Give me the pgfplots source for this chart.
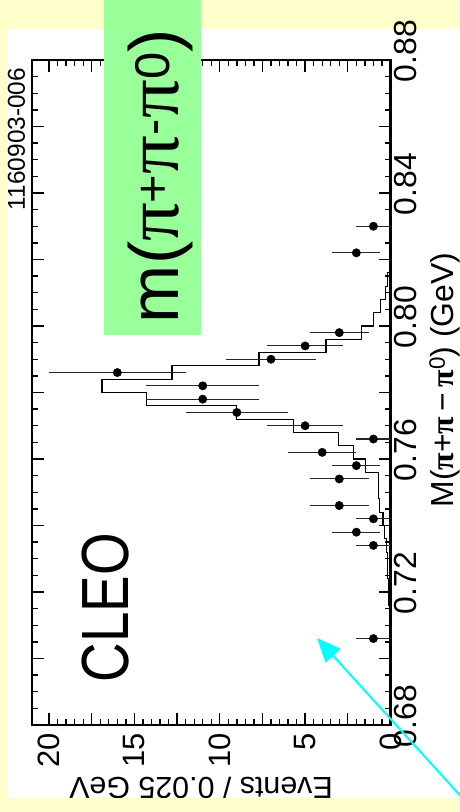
\documentclass[border=0pt]{standalone}
\usepackage{fontspec}
\setmainfont{Liberation Sans}
\newfontfamily\serifpi{Liberation Serif}
\usepackage{pgfplots}
\pgfplotsset{compat=1.18}
\usetikzlibrary{arrows.meta}
\definecolor{bgyellow}{RGB}{255,255,204}
\definecolor{boxgreen}{RGB}{153,255,153}
\definecolor{arrowcyan}{RGB}{0,255,255}
\newcommand{\spi}{{\serifpi\scalebox{1.1}{π}}}
\newcommand{\bpi}{{\serifpi\bfseries π}}
\begin{document}
\begin{tikzpicture}
\begin{scope}[x=1bp,y=1bp,shift={(-32bp,-87bp)}]
\fill[bgyellow] (0,0) rectangle (460,812);
\fill[white] (8,14) rectangle (460,783);
\end{scope}
\begin{axis}[
  at={(0pt,0pt)}, anchor=south west,
  scale only axis, width=358.5bp, height=665bp,
  xmin=0, xmax=21, x dir=reverse,
  ymin=0.68, ymax=0.88,
  axis line style={line width=2.5bp},
  tick align=inside,
  major tick length=12bp, minor tick length=6bp,
  every tick/.style={line width=1.3bp, black},
  xtick={0,2.5,5,7.5,10,12.5,15,17.5,20},
  xticklabels={0,,5,,10,,15,,20},
  minor x tick num=4,
  ytick={0.68,0.70,0.72,0.74,0.76,0.78,0.80,0.82,0.84,0.86,0.88},
  yticklabels={0.68,,0.72,,0.76,,0.80,,0.84,,0.88},
  minor y tick num=3,
  yticklabel pos=right,
  xticklabel style={font=\fontsize{31}{31}\selectfont, rotate=90, anchor=east, inner sep=8bp},
  yticklabel style={font=\fontsize{32}{32}\selectfont, yshift=9bp, rotate=90, anchor=north, inner sep=4bp},
]
% MC histogram (step curve along the mass axis)
\addplot[black, line width=1.1bp] coordinates {
(0,0.700) (0.03,0.700) (0.03,0.704) (0.04,0.704) (0.04,0.708) (0.06,0.708) (0.06,0.712)
(0.08,0.712) (0.08,0.716) (0.10,0.716) (0.10,0.720) (0.12,0.720) (0.12,0.724)
(0.15,0.724) (0.15,0.728) (0.20,0.728) (0.20,0.732) (0.25,0.732) (0.25,0.736)
(0.34,0.736) (0.34,0.740) (0.44,0.740) (0.44,0.744) (0.63,0.744) (0.63,0.748)
(0.72,0.748) (0.72,0.752) (0.72,0.752) (0.72,0.756) (1.49,0.756) (1.49,0.760)
(2.18,0.760) (2.18,0.764) (3.06,0.764) (3.06,0.768) (5.7,0.768) (5.7,0.772)
(9.0,0.772) (9.0,0.776) (14.3,0.776) (14.3,0.780) (16.9,0.780) (16.9,0.784)
(12.8,0.784) (12.8,0.788) (7.7,0.788) (7.7,0.792) (3.78,0.792) (3.78,0.796)
(1.69,0.796) (1.69,0.800) (1.0,0.800) (1.0,0.804) (0.6,0.804) (0.6,0.808)
(0.3,0.808) (0.3,0.812) (0.15,0.812) (0.15,0.816) (0.08,0.816) (0.08,0.820)
(0.04,0.820) (0.04,0.824) (0,0.824)
};
% data points
\addplot[only marks, mark=*, mark size=4.2bp, black,
  error bars/.cd, x dir=both, x explicit, error mark=none,
  error bar style={line width=1.1bp, black!85}]
coordinates {
(1,0.706) +- (1,0)
(1,0.734) +- (1,0)
(2,0.738) +- (1.414,0)
(1,0.742) +- (1,0)
(3,0.746) +- (1.732,0)
(3,0.754) +- (1.732,0)
(2,0.758) +- (1.414,0)
(4,0.762) +- (2,0)
(1,0.766) +- (1,0)
(5,0.770) +- (2.236,0)
(9,0.774) +- (3,0)
(11,0.778) +- (3.317,0)
(11,0.782) +- (3.317,0)
(16,0.786) +- (4,0)
(7,0.790) +- (2.646,0)
(5,0.794) +- (2.236,0)
(3,0.798) +- (1.732,0)
(2,0.822) +- (1.414,0)
(1,0.830) +- (1,0)
};
\end{axis}
\begin{scope}[x=1bp,y=1bp,shift={(-32bp,-87bp)}]
% axis titles
\node[rotate=90] at (445,432) {\fontsize{32}{32}\selectfont M(\bpi+\bpi\,−\,\bpi\textsuperscript{0}) (GeV)};
\node[rotate=180] at (201,24) {\fontsize{30.5}{30.5}\selectfont Events / 0.025 GeV};
\fill[bgyellow] (0,0) rectangle (460,14);
\node[rotate=90] at (16.5,673) {\fontsize{24.5}{24.5}\selectfont 1160903-006};
% overlays
\node[rotate=90] at (106,204.5) {\fontsize{67}{67}\selectfont\scalebox{0.82}[1]{CLEO}};
\fill[boxgreen] (104,477) rectangle (201,812);
\node[rotate=90] at (160,636) {\fontsize{70}{70}\selectfont m(\spi\textsuperscript{+}\spi\textsuperscript{-}\spi\textsuperscript{0})};
\draw[arrowcyan, line width=2bp, -{Triangle[length=24bp,width=20bp]}] (462,14.5) -- (317,174);
\pgfresetboundingbox
\path[use as bounding box] (0,0) rectangle (460,812);
\end{scope}
\end{tikzpicture}
\end{document}
